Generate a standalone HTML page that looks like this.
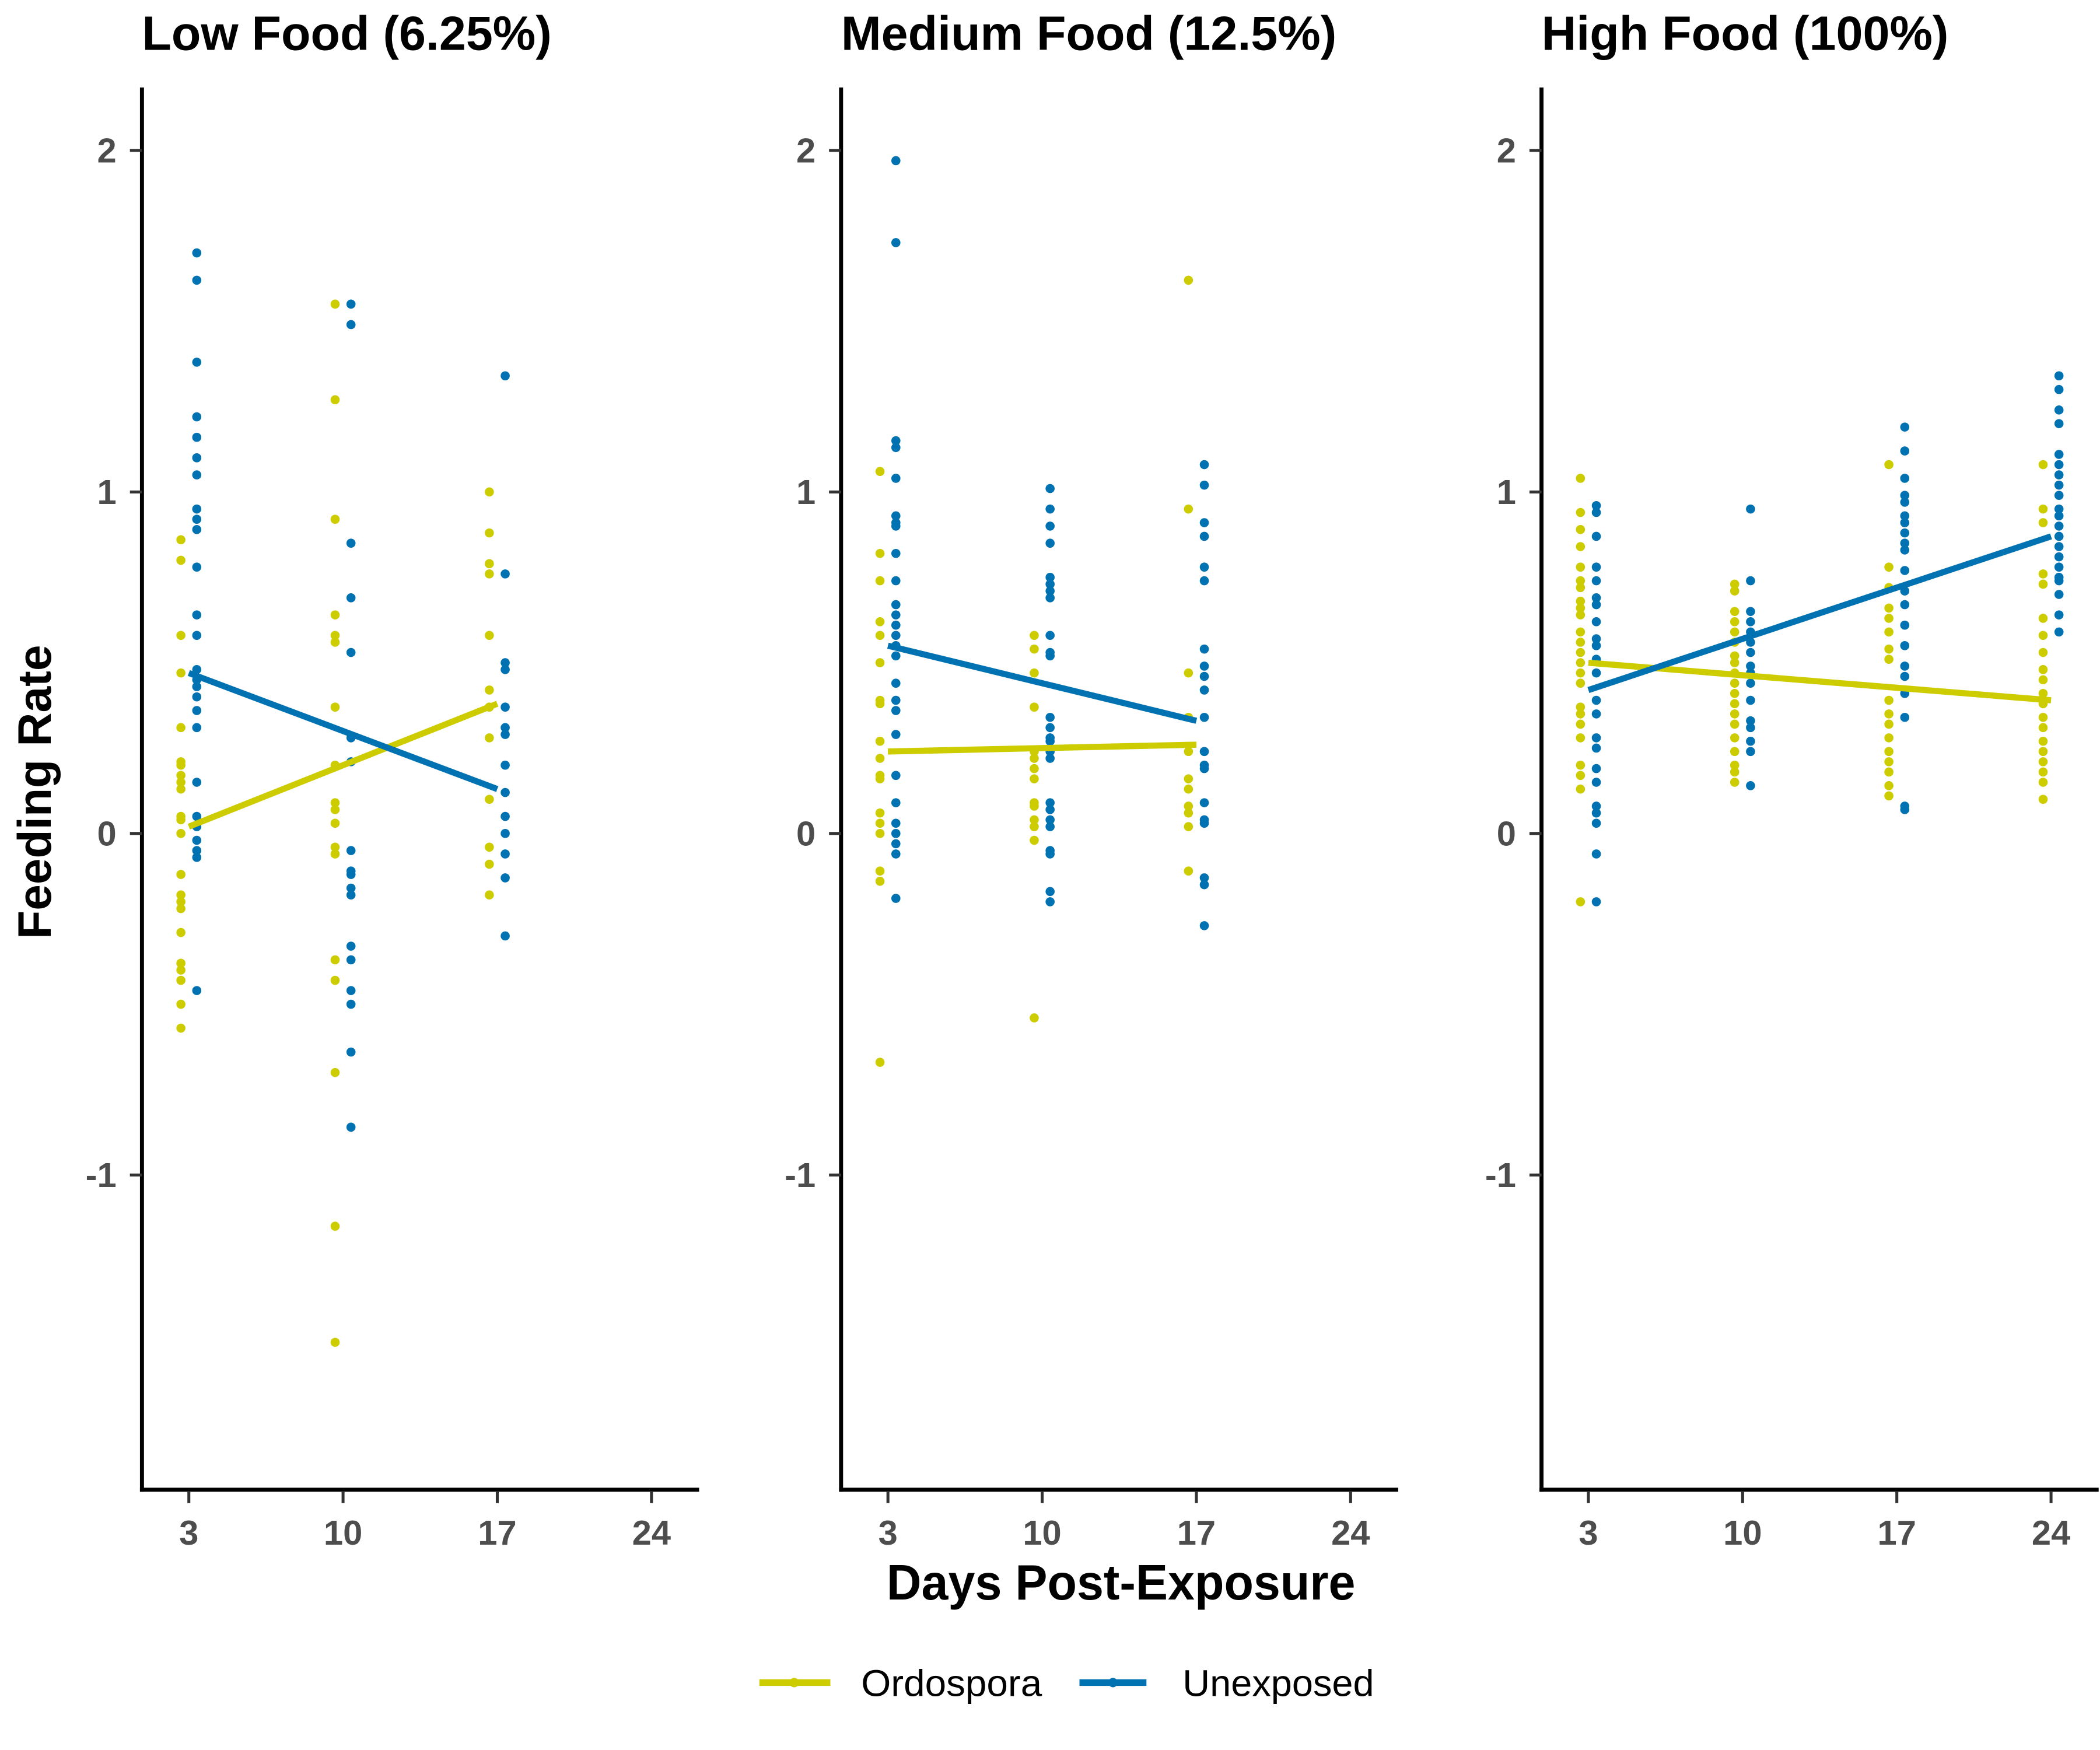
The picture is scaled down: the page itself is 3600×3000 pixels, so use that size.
<!DOCTYPE html>
<html><head><meta charset="utf-8"><style>
html,body{margin:0;padding:0;background:#fff;}
svg{display:block;}
text{font-family:"Liberation Sans",Arial,sans-serif;}
</style></head><body>
<svg id="chart" width="3600" height="3000" viewBox="0 0 1568 1306" xmlns="http://www.w3.org/2000/svg">
<text transform="translate(38,591) rotate(-90)" text-anchor="middle" font-size="35" font-weight="bold" fill="#000">Feeding Rate</text>
<text x="837" y="1194" text-anchor="middle" font-size="37" font-weight="bold" fill="#000" textLength="350" lengthAdjust="spacingAndGlyphs">Days Post-Exposure</text>
<g>
<g>
<line x1="567" y1="1256" x2="620" y2="1256" stroke="#CCCC00" stroke-width="5"/>
<circle cx="593" cy="1256" r="3.5" fill="#CCCC00"/>
<text x="643" y="1266" font-size="28" fill="#000" textLength="135" lengthAdjust="spacingAndGlyphs">Ordospora</text></g>
<g>
<line x1="806" y1="1256" x2="856" y2="1256" stroke="#0072B2" stroke-width="5"/>
<circle cx="831" cy="1256" r="3.5" fill="#0072B2"/>
<text x="883" y="1266" font-size="28" fill="#000" textLength="143" lengthAdjust="spacingAndGlyphs">Unexposed</text></g>
</g>
</svg>
<script>
const panelTitles = ["Low Food (6.25%)", "Medium Food (12.5%)", "High Food (100%)"];
const dayTicks = [3, 10, 17, 24];
const yTicks = [2, 1, 0, -1];
const yTickLabels = ["2", "1", "0", "-1"];

const lowOrdo = {
 3:[0.86,0.80,0.58,0.47,0.31,0.21,0.20,0.17,0.15,0.13,0.05,0.04,0.00,-0.12,-0.18,-0.20,-0.22,-0.29,-0.38,-0.40,-0.43,-0.50,-0.57],
 10:[1.55,1.27,0.92,0.64,0.58,0.56,0.37,0.20,0.09,0.07,0.03,-0.04,-0.06,-0.37,-0.43,-0.70,-1.15,-1.49],
 17:[1.00,0.88,0.79,0.76,0.58,0.42,0.37,0.28,0.10,-0.04,-0.09,-0.18]};
const lowUnexp = {
 3:[1.70,1.62,1.38,1.22,1.16,1.10,1.05,0.95,0.92,0.89,0.78,0.64,0.58,0.48,0.45,0.43,0.40,0.36,0.31,0.15,0.05,0.02,-0.02,-0.05,-0.07,-0.46],
 10:[1.55,1.49,0.85,0.69,0.53,0.28,0.21,-0.05,-0.11,-0.12,-0.16,-0.18,-0.33,-0.37,-0.46,-0.50,-0.64,-0.86],
 17:[1.34,0.76,0.50,0.48,0.37,0.31,0.29,0.20,0.12,0.05,0.00,-0.06,-0.13,-0.30]};
const medOrdo = {
 3:[1.06,0.82,0.74,0.62,0.58,0.50,0.39,0.38,0.27,0.22,0.17,0.16,0.06,0.03,0.00,-0.11,-0.14,-0.67],
 10:[0.58,0.54,0.47,0.37,0.24,0.22,0.19,0.16,0.09,0.08,0.04,0.02,-0.02,-0.54],
 17:[1.62,0.95,0.47,0.34,0.24,0.16,0.13,0.08,0.06,0.02,-0.11]};
const medUnexp = {
 3:[1.97,1.73,1.15,1.13,1.04,0.93,0.91,0.90,0.82,0.74,0.67,0.64,0.61,0.58,0.55,0.52,0.44,0.39,0.36,0.29,0.17,0.09,0.03,0.00,-0.03,-0.06,-0.19],
 10:[1.01,0.95,0.90,0.85,0.75,0.73,0.71,0.69,0.58,0.53,0.52,0.34,0.31,0.28,0.27,0.24,0.22,0.09,0.07,0.04,0.02,-0.05,-0.06,-0.17,-0.20],
 17:[1.08,1.02,0.91,0.87,0.78,0.74,0.54,0.49,0.46,0.42,0.34,0.24,0.20,0.19,0.09,0.04,0.03,-0.13,-0.15,-0.27]};
const highOrdo = {
 3:[1.04,0.94,0.89,0.84,0.78,0.74,0.72,0.68,0.66,0.64,0.59,0.56,0.53,0.50,0.47,0.44,0.37,0.35,0.32,0.28,0.20,0.17,0.13,-0.20],
 10:[0.73,0.71,0.65,0.62,0.59,0.56,0.52,0.50,0.47,0.44,0.41,0.38,0.35,0.32,0.28,0.24,0.20,0.18,0.15],
 17:[1.08,0.78,0.72,0.66,0.63,0.59,0.54,0.51,0.39,0.35,0.32,0.28,0.24,0.21,0.18,0.14,0.11],
 24:[1.08,0.95,0.91,0.76,0.73,0.63,0.58,0.53,0.48,0.45,0.41,0.38,0.34,0.31,0.27,0.24,0.21,0.18,0.15,0.10]};
const highUnexp = {
 3:[0.96,0.94,0.87,0.78,0.74,0.69,0.67,0.62,0.57,0.55,0.51,0.47,0.39,0.35,0.28,0.25,0.19,0.15,0.08,0.06,0.03,-0.06,-0.20],
 10:[0.95,0.74,0.65,0.62,0.59,0.56,0.53,0.49,0.47,0.44,0.39,0.33,0.31,0.27,0.24,0.14],
 17:[1.19,1.12,1.04,0.99,0.97,0.93,0.91,0.88,0.85,0.83,0.77,0.71,0.67,0.61,0.55,0.49,0.46,0.41,0.34,0.08,0.07],
 24:[1.34,1.30,1.24,1.20,1.11,1.08,1.05,1.02,0.99,0.95,0.93,0.90,0.87,0.84,0.81,0.78,0.75,0.74,0.70,0.64,0.59]};

// fitted line endpoints: [startDay, startValue, endDay, endValue]
const lowOrdoFit = [3, 0.02, 17, 0.38];
const lowUnexpFit = [3, 0.47, 17, 0.13];
const medOrdoFit = [3, 0.24, 17, 0.26];
const medUnexpFit = [3, 0.55, 17, 0.33];
const highOrdoFit = [3, 0.50, 24, 0.39];
const highUnexpFit = [3, 0.42, 24, 0.87];

const panelOrdo = [lowOrdo, medOrdo, highOrdo];
const panelUnexp = [lowUnexp, medUnexp, highUnexp];
const panelOrdoFit = [lowOrdoFit, medOrdoFit, highOrdoFit];
const panelUnexpFit = [lowUnexpFit, medUnexpFit, highUnexpFit];

const NS = "http://www.w3.org/2000/svg";
const svg = document.getElementById("chart");
const axisLeft = [106, 628, 1151];
const YELLOW = "#CCCC00", BLUE = "#0072B2";
function yScale(v){ return 622 - v*255; }
function xScale(p, d){ return axisLeft[p] + 35 + (d-3)*16.45; }
function mk(tag, attrs, parent){
  const e = document.createElementNS(NS, tag);
  for (const k in attrs) e.setAttribute(k, attrs[k]);
  (parent||svg).appendChild(e);
  return e;
}

for (let p=0; p<3; p++){
  const g = mk("g", {});
  
  
  const L = axisLeft[p];
  const t = mk("text", {x:L, y:37, "font-size":36, "font-weight":"bold", fill:"#000"}, g);
  t.textContent = panelTitles[p];
  
  
  const ya = mk("line", {x1:L, y1:65, x2:L, y2:1113.5, stroke:"#000", "stroke-width":3}, g);
  
  
  const xa = mk("line", {x1:L-1.5, y1:1112, x2:L+416, y2:1112, stroke:"#000", "stroke-width":3}, g);
  
  
  yTicks.forEach((v,i)=>{
    const y = yScale(v);
    const tk = mk("line", {x1:L-9, y1:y, x2:L, y2:y, stroke:"#333", "stroke-width":2.2}, g);
    
    
    const lb = mk("text", {x:L-19, y:y+9, "text-anchor":"end", "font-size":26, "font-weight":"bold", fill:"#4d4d4d"}, g);
    lb.textContent = yTickLabels[i];
    
    
  });
  dayTicks.forEach(d=>{
    const x = xScale(p, d);
    const tk = mk("line", {x1:x, y1:1113, x2:x, y2:1122, stroke:"#333", "stroke-width":2.2}, g);
    
    
    const lb = mk("text", {x:x, y:1153, "text-anchor":"middle", "font-size":26, "font-weight":"bold", fill:"#4d4d4d"}, g);
    lb.textContent = String(d);
    
    
  });
  const groups = [[panelOrdo[p], YELLOW, -0.36, "ordospora"], [panelUnexp[p], BLUE, 0.36, "unexposed"]];
  groups.forEach(([data, col, off, nm])=>{
    for (const day in data){
      data[day].forEach(v=>{
        const c = mk("circle", {cx:xScale(p, +day + off), cy:yScale(v), r:3.4, fill:col}, g);
        
        
      });
    }
  });
  [[panelOrdoFit[p], YELLOW, "ordospora"], [panelUnexpFit[p], BLUE, "unexposed"]].forEach(([f, col, nm])=>{
    const ln = mk("line", {x1:xScale(p,f[0]), y1:yScale(f[1]), x2:xScale(p,f[2]), y2:yScale(f[3]), stroke:col, "stroke-width":4.6}, g);
    
    
  });
}
</script>
</body></html>
